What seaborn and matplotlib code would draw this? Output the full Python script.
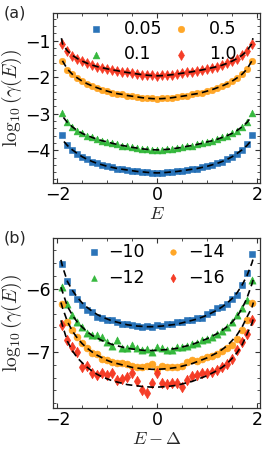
import numpy as np
import pandas as pd
import matplotlib
matplotlib.use("Agg")
import matplotlib.pyplot as plt
from matplotlib.ticker import MultipleLocator
import seaborn as sns

# ---------------- data ----------------
E_grid = [round(-1.9 + 0.1 * i, 2) for i in range(39)]

# panel (a): labels and point values
labels_a = ["0.05", "0.1", "0.5", "1.0"]
blue_a = [-3.58, -3.85, -3.98, -4.09, -4.18, -4.25, -4.31, -4.36, -4.40, -4.44,
          -4.47, -4.50, -4.52, -4.54, -4.56, -4.58, -4.59, -4.60, -4.61, -4.63,
          -4.61, -4.60, -4.59, -4.57, -4.56, -4.54, -4.52, -4.50, -4.47, -4.44,
          -4.40, -4.36, -4.31, -4.25, -4.18, -4.09, -3.98, -3.84, -3.58]
green_a = [-2.97, -3.23, -3.36, -3.46, -3.54, -3.60, -3.65, -3.70, -3.74, -3.77,
           -3.81, -3.84, -3.87, -3.89, -3.92, -3.94, -3.96, -3.97, -3.98, -3.99,
           -3.98, -3.97, -3.96, -3.94, -3.92, -3.89, -3.87, -3.84, -3.81, -3.77,
           -3.74, -3.70, -3.65, -3.60, -3.54, -3.46, -3.36, -3.22, -2.97]
orange_a = [-1.56, -1.79, -1.92, -2.03, -2.11, -2.18, -2.24, -2.29, -2.34, -2.38,
            -2.42, -2.45, -2.47, -2.50, -2.52, -2.54, -2.56, -2.57, -2.58, -2.60,
            -2.58, -2.57, -2.56, -2.54, -2.52, -2.50, -2.47, -2.44, -2.42, -2.38,
            -2.34, -2.30, -2.24, -2.18, -2.11, -2.02, -1.91, -1.78, -1.55]
red_a = [-1.10, -1.29, -1.41, -1.49, -1.56, -1.62, -1.67, -1.71, -1.74, -1.77,
         -1.80, -1.82, -1.85, -1.87, -1.89, -1.91, -1.93, -1.94, -1.95, -1.97,
         -1.95, -1.94, -1.93, -1.91, -1.89, -1.87, -1.85, -1.82, -1.80, -1.77,
         -1.74, -1.71, -1.67, -1.62, -1.56, -1.49, -1.40, -1.28, -1.10]

# panel (a) fits: half curves from E=0 outwards (mirrored for E<0)
fitx_half_common = [0.0, 0.1, 0.2, 0.3, 0.4, 0.5, 0.6, 0.7, 0.8, 0.9,
                    1.0, 1.1, 1.2, 1.3, 1.4, 1.5, 1.6, 1.7, 1.8]
fit_blue_a_half = [-4.62, -4.615, -4.605, -4.59, -4.58, -4.56, -4.54, -4.52, -4.50, -4.47,
                   -4.44, -4.40, -4.36, -4.31, -4.25, -4.18, -4.09, -3.99, -3.87]
fit_blue_a_end = ([1.87], [-3.76])
fit_green_a_half = [-3.99, -3.985, -3.975, -3.96, -3.94, -3.92, -3.89, -3.87, -3.84, -3.81,
                    -3.77, -3.74, -3.70, -3.65, -3.60, -3.54, -3.46, -3.36, -3.24]
fit_green_a_end = ([1.88], [-3.10])
fit_orange_a_half = [-2.59, -2.585, -2.575, -2.56, -2.54, -2.52, -2.50, -2.47, -2.45, -2.42,
                     -2.38, -2.34, -2.29, -2.24, -2.18, -2.11, -2.02, -1.92, -1.78]
fit_orange_a_end = ([1.9], [-1.55])
fit_red_a_half = [-1.96, -1.955, -1.945, -1.93, -1.91, -1.89, -1.87, -1.85, -1.82, -1.80,
                  -1.77, -1.74, -1.71, -1.67, -1.62, -1.56, -1.49, -1.40, -1.28]
fit_red_a_end = ([1.9, 1.92], [-1.08, -0.93])

# panel (b)
labels_b = ["\u221210", "\u221212", "\u221214", "\u221216"]
blue_b = [-5.61, -5.88, -6.05, -6.16, -6.26, -6.34, -6.37, -6.45, -6.47, -6.50,
          -6.50, -6.52, -6.55, -6.55, -6.58, -6.59, -6.60, -6.59, -6.61, -6.58,
          -6.59, -6.56, -6.55, -6.53, -6.52, -6.50, -6.49, -6.47, -6.46, -6.40,
          -6.37, -6.31, -6.29, -6.25, -6.16, -6.10, -5.95, -5.76, -5.45]
green_b = [-5.97, -6.24, -6.42, -6.52, -6.61, -6.70, -6.73, -6.73, -6.76, -6.84,
           -6.91, -6.81, -6.93, -6.94, -6.89, -6.94, -6.96, -6.95, -7.00, -6.92,
           -6.94, -6.96, -6.97, -6.92, -6.92, -6.90, -6.87, -6.85, -6.81, -6.79,
           -6.76, -6.72, -6.67, -6.61, -6.52, -6.42, -6.31, -6.18, -5.87]
orange_b = [-6.24, -6.52, -6.65, -6.76, -6.86, -6.94, -7.01, -7.03, -7.10, -7.13,
            -7.15, -7.17, -7.17, -7.19, -7.21, -7.23, -7.24, -7.22, -7.18, -7.26,
            -7.22, -7.24, -7.23, -7.24, -7.22, -7.16, -7.13, -7.14, -7.10, -7.08,
            -7.06, -7.03, -6.98, -6.94, -6.89, -6.79, -6.65, -6.50, -6.23]
red_b = [-6.58, -6.81, -6.92, -6.99, -7.23, -7.22, -7.33, -7.36, -7.32, -7.36,
         -7.32, -7.43, -7.42, -7.39, -7.32, -7.45, -7.59, -7.64, -7.48, -7.33,
         -7.49, -7.50, -7.48, -7.49, -7.54, -7.44, -7.38, -7.36, -7.33, -7.32,
         -7.31, -7.28, -7.23, -7.19, -7.10, -6.97, -6.84, -6.71, -6.50]

fitx_b = [-1.93] + E_grid + [1.93]
fit_blue_b = [-5.55, -5.65, -5.89, -6.03, -6.14, -6.23, -6.30, -6.36, -6.41, -6.45, -6.48,
              -6.51, -6.53, -6.55, -6.57, -6.58, -6.59, -6.595, -6.60, -6.60, -6.595,
              -6.59, -6.58, -6.57, -6.56, -6.54, -6.52, -6.50, -6.48, -6.45, -6.42,
              -6.38, -6.34, -6.29, -6.23, -6.16, -6.07, -5.95, -5.80, -5.60, -5.52]
fit_green_b = [-5.98, -6.05, -6.28, -6.42, -6.53, -6.61, -6.68, -6.74, -6.78, -6.82, -6.85,
               -6.88, -6.90, -6.92, -6.94, -6.95, -6.96, -6.97, -6.975, -6.975, -6.97,
               -6.965, -6.96, -6.95, -6.94, -6.92, -6.90, -6.88, -6.85, -6.82, -6.79,
               -6.75, -6.71, -6.66, -6.60, -6.53, -6.44, -6.32, -6.15, -5.93, -5.85]
fit_orange_b = [-6.22, -6.30, -6.52, -6.67, -6.78, -6.87, -6.94, -7.00, -7.05, -7.09, -7.13,
                -7.16, -7.18, -7.20, -7.22, -7.24, -7.25, -7.26, -7.265, -7.27, -7.27,
                -7.265, -7.26, -7.25, -7.24, -7.22, -7.20, -7.18, -7.15, -7.12, -7.09,
                -7.05, -7.01, -6.96, -6.90, -6.82, -6.73, -6.61, -6.45, -6.30, -6.22]
fit_red_b = [-6.50, -6.58, -6.83, -6.98, -7.09, -7.17, -7.24, -7.30, -7.35, -7.39, -7.42,
             -7.45, -7.47, -7.49, -7.51, -7.52, -7.53, -7.54, -7.545, -7.55, -7.55,
             -7.545, -7.54, -7.53, -7.52, -7.50, -7.48, -7.46, -7.43, -7.40, -7.37,
             -7.33, -7.29, -7.24, -7.18, -7.10, -7.01, -6.89, -6.72, -6.55, -6.47]

colors = ["#1f6db5", "#2cb534", "#ffa21c", "#f5331c"]
markers = ["s", "^", "o", "d"]


def mirror(xh, yh, end):
    xs = xh + end[0]
    ys = yh + end[1]
    x_full = [-v for v in xs[::-1]] + xs[1:]
    y_full = ys[::-1] + ys[1:]
    return x_full, y_full


# ---------------- style ----------------
sns.set_style("ticks")
plt.rcParams.update({
    "font.family": ["DejaVu Sans"],
    "mathtext.fontset": "cm",
    "xtick.direction": "in", "ytick.direction": "in",
    "xtick.top": True, "ytick.right": True,
    "xtick.major.size": 3.5, "ytick.major.size": 3.5,
    "xtick.minor.size": 2.0, "ytick.minor.size": 2.0,
    "xtick.major.width": 0.8, "ytick.major.width": 0.8,
    "xtick.minor.width": 0.6, "ytick.minor.width": 0.6,
    "axes.linewidth": 0.9,
    "axes.edgecolor": "#333333",
    "xtick.color": "#333333", "ytick.color": "#333333",
    "xtick.labelcolor": "black", "ytick.labelcolor": "black",
})

fig = plt.figure(figsize=(2.66, 4.5), dpi=100)
ax_a = fig.add_axes([0.201, 0.593, 0.776, 0.379])
ax_b = fig.add_axes([0.201, 0.093, 0.776, 0.379])

series_a = [blue_a, green_a, orange_a, red_a]
fits_a = [(fit_blue_a_half, fit_blue_a_end), (fit_green_a_half, fit_green_a_end),
          (fit_orange_a_half, fit_orange_a_end), (fit_red_a_half, fit_red_a_end)]
series_b = [blue_b, green_b, orange_b, red_b]
fits_b = [fit_blue_b, fit_green_b, fit_orange_b, fit_red_b]
sizes = [22, 24, 22, 26]

for i in range(4):
    df = pd.DataFrame({"E": E_grid, "y": series_a[i]})
    sns.scatterplot(data=df, x="E", y="y", ax=ax_a, color=colors[i], marker=markers[i],
                    s=sizes[i], edgecolor=colors[i], linewidth=0.4,
                    alpha=0.95, label=labels_a[i], zorder=2)
for i in range(4):
    fx, fy = mirror(fitx_half_common, fits_a[i][0], fits_a[i][1])
    dfl = pd.DataFrame({"E": fx, "y": fy})
    sns.lineplot(data=dfl, x="E", y="y", ax=ax_a, color="black", linestyle=(0, (4, 2.5)),
                 linewidth=1.2, legend=False, sort=False, zorder=3)

for i in range(4):
    df = pd.DataFrame({"E": E_grid, "y": series_b[i]})
    sns.scatterplot(data=df, x="E", y="y", ax=ax_b, color=colors[i], marker=markers[i],
                    s=sizes[i] + 3, edgecolor=colors[i], linewidth=0.4,
                    alpha=0.95, label=labels_b[i], zorder=2)
for i in range(4):
    dfl = pd.DataFrame({"E": fitx_b, "y": fits_b[i]})
    sns.lineplot(data=dfl, x="E", y="y", ax=ax_b, color="black", linestyle=(0, (4, 2.5)),
                 linewidth=1.2, legend=False, sort=False, zorder=3)

legend_cfg = {
    ax_a: dict(handletextpad=1.1, columnspacing=0.6, bbox_to_anchor=(0.13, 1.0),
               markerscale=1.0),
    ax_b: dict(handletextpad=0.35, columnspacing=1.1, bbox_to_anchor=(0.12, 1.01),
               markerscale=0.8),
}
for ax in (ax_a, ax_b):
    ax.set_xlim(-2.08, 2.06)
    ax.xaxis.set_major_locator(MultipleLocator(2))
    ax.xaxis.set_minor_locator(MultipleLocator(0.5))
    ax.yaxis.set_major_locator(MultipleLocator(1))
    ax.yaxis.set_minor_locator(MultipleLocator(0.2))
    ax.tick_params(which="both", direction="in", top=True, right=True, labelsize=12.5, pad=2)
    ax.set_ylabel(r"$\log_{10}(\gamma(E))$", fontsize=14, labelpad=1)
    leg = ax.legend(ncol=2, frameon=False, fontsize=12.5, loc="upper left",
                    labelspacing=0.45, handlelength=1.0,
                    borderaxespad=0.0, borderpad=0.4, **legend_cfg[ax])
    for t in leg.get_texts():
        t.set_color("black")

ax_a.set_ylim(-4.9, -0.23)
ax_b.set_ylim(-7.88, -5.2)
ax_a.set_xlabel(r"$E$", fontsize=13, labelpad=0.5)
ax_b.set_xlabel(r"$E-\Delta$", fontsize=13, labelpad=0.5)

fig.text(0.012, 0.972, "(a)", fontsize=11.5, va="center", ha="left")
fig.text(0.012, 0.472, "(b)", fontsize=11.5, va="center", ha="left")

fig.savefig("out.png", dpi=100)
